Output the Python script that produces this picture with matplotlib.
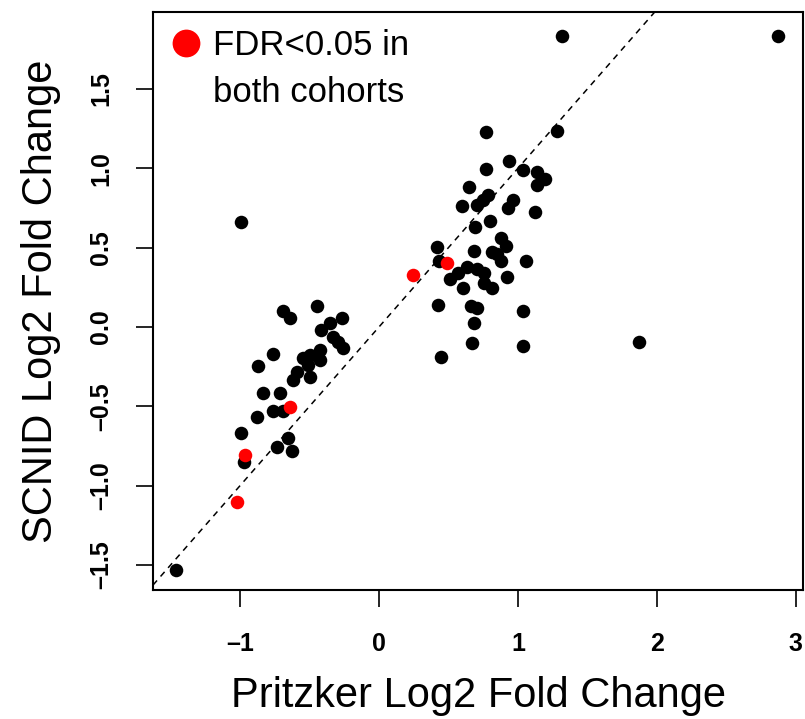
import matplotlib
matplotlib.use("Agg")
import matplotlib.pyplot as plt
from matplotlib.lines import Line2D

plt.rcParams['font.family'] = ['Liberation Sans', 'DejaVu Sans']

# log2 fold changes, all genes (Pritzker, SCNID)
pritzker = [1.316, 2.874, 0.768, 1.279, 0.938, 0.770, 1.034, 1.135, 1.195, 1.140,
            0.650, 0.787, 0.751, 0.708, 0.595, 0.963, 0.931, 1.123, 0.799, 0.691,
            0.878, 0.914, 0.416, 0.686, 0.811, 0.850, 0.876, 1.058, 0.434, 0.636,
            0.708, 0.571, 0.756, 0.511, 0.607, 0.756, 0.811, 0.919, 0.427, 0.660,
            0.708, 1.039, 0.686, 0.672, 1.034, 0.444, 1.875, -0.991,
            -0.689, -0.640, -0.449, -0.269, -0.353, -0.418, -0.330, -0.293, -0.257,
            -0.760, -0.497, -0.425, -0.425, -0.545, -0.510, -0.592, -0.868, -0.617,
            -0.497, -0.832, -0.712, -0.760, -0.690, -0.876, -0.995, -0.653, -0.736,
            -0.628, -0.971, -1.460]
scnid = [1.832, 1.836, 1.231, 1.237, 1.048, 0.994, 0.989, 0.979, 0.931, 0.895,
         0.884, 0.832, 0.800, 0.769, 0.762, 0.800, 0.748, 0.727, 0.670, 0.628,
         0.563, 0.510, 0.506, 0.479, 0.475, 0.460, 0.418, 0.416, 0.418, 0.380,
         0.363, 0.338, 0.338, 0.300, 0.244, 0.275, 0.244, 0.313, 0.139, 0.132,
         0.118, 0.101, 0.027, -0.103, -0.120, -0.187, -0.092, 0.661,
         0.100, 0.060, 0.130, 0.055, 0.027, -0.019, -0.061, -0.093, -0.134,
         -0.170, -0.176, -0.145, -0.208, -0.197, -0.237, -0.282, -0.246, -0.334,
         -0.313, -0.414, -0.418, -0.530, -0.530, -0.565, -0.666, -0.701, -0.754,
         -0.781, -0.853, -1.530]

# genes with FDR < 0.05 in both cohorts
sig_pritzker = [0.487, 0.247, -0.640, -0.962, -1.024]
sig_scnid = [0.401, 0.328, -0.504, -0.808, -1.104]

xticks = [-1, 0, 1, 2, 3]
yticks = [-1.5, -1.0, -0.5, 0.0, 0.5, 1.0, 1.5]

fig = plt.figure(figsize=(8.05, 7.19), dpi=100)
ax = fig.add_axes([153 / 805, 1 - 590 / 719, 650 / 805, 578 / 719])

ax.scatter(pritzker, scnid, s=95, color='black', linewidths=0, zorder=3)
ax.scatter(sig_pritzker, sig_scnid, s=95, color='red', linewidths=0, zorder=4)
ax.axline((0, 0), slope=1, color='black', lw=1.1, ls=(0, (4, 3.5)), zorder=2)

ax.set_xlim(-1.626, 3.052)
ax.set_ylim(-1.657, 1.985)
ax.set_xticks(xticks)
ax.set_xticklabels(['\u20131', '0', '1', '2', '3'])
ax.set_yticks(yticks)
ax.set_yticklabels(['\u20131.5', '\u20131.0', '\u20130.5', '0.0', '0.5', '1.0', '1.5'])

for side in ax.spines.values():
    side.set_linewidth(1.5)
ax.tick_params(axis='both', direction='out', length=12.5, width=1.2, labelsize=18)
ax.tick_params(axis='x', pad=18)
ax.tick_params(axis='y', pad=16, labelrotation=90)
for lab in ax.get_xticklabels() + ax.get_yticklabels():
    lab.set_fontweight('bold')
for lab in ax.get_yticklabels():
    lab.set_verticalalignment('center')

ax.set_xlabel('Pritzker Log2 Fold Change', fontsize=30)
ax.set_ylabel('SCNID Log2 Fold Change', fontsize=30)
ax.xaxis.set_label_coords(0.5, -0.148)
ax.yaxis.set_label_coords(-0.1415, 0.5)

handles = [Line2D([], [], ls='', marker='o', ms=20, color='red', mec='none'),
           Line2D([], [], ls='', marker='')]
ax.legend(handles, ['FDR<0.05 in', 'both cohorts'], loc='upper left',
          frameon=False, fontsize=25, handlelength=0.9, handletextpad=0.33,
          labelspacing=0.4, borderaxespad=0.2, borderpad=0.3)

fig.savefig('out.png', dpi=100)
